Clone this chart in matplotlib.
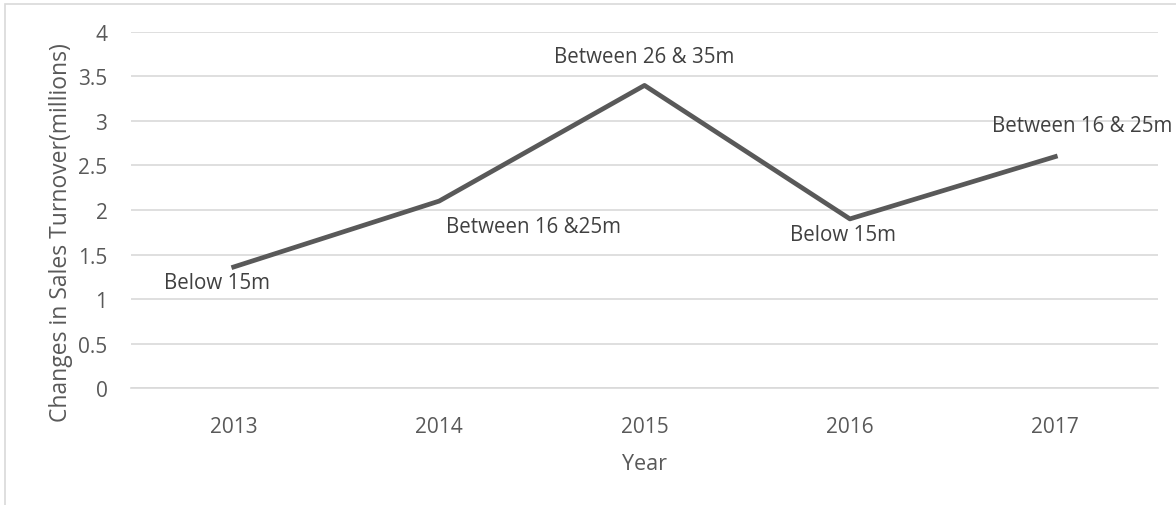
import matplotlib.pyplot as plt
import numpy as np

# data
years = ['2013', '2014', '2015', '2016', '2017']
turnover = [1.36, 2.1, 3.4, 1.9, 2.6]
labels = ['Below 15m', 'Between 16 &25m', 'Between 26 & 35m', 'Below 15m', 'Between 16 & 25m']
# label offsets (pixels) from each point
offsets = [(-17, -16), (94, -25), (0, 29), (-7, -16), (27, 31)]

plt.rcParams['font.family'] = ['Open Sans', 'DejaVu Sans']
grey = '#595959'
px = 72 / 100.

fig = plt.figure(figsize=(11.76, 5.06), dpi=100)
fig.patches.append(plt.Rectangle((0.004, -0.01), 1.1, 1.0, transform=fig.transFigure,
                                 fill=False, edgecolor='#d9d9d9', linewidth=1.2))
ax = fig.add_axes([0.1114, 0.2312, 0.8733, 0.7036])

x = np.arange(len(years))
ax.plot(x, turnover, color=grey, linewidth=3.4, zorder=3)

for xi, yi, lab, off in zip(x, turnover, labels, offsets):
    ax.annotate(lab, (xi, yi), xytext=(off[0] * px, off[1] * px),
                textcoords='offset points', ha='center', va='center',
                fontsize=14.8, color='#404040', annotation_clip=False)

ax.set_xlim(-0.5, 4.5)
ax.set_ylim(0, 4)
ax.set_yticks(np.arange(0, 4.01, 0.5))
ax.set_yticklabels(['0', '0.5', '1', '1.5', '2', '2.5', '3', '3.5', '4'])
ax.set_xticks(x)
ax.set_xticklabels(years)
ax.grid(axis='y', color='#d9d9d9', linewidth=1.2)
ax.set_axisbelow(True)
for s in ax.spines.values():
    s.set_visible(False)
ax.spines['bottom'].set_visible(True)
ax.spines['bottom'].set_color('#d9d9d9')
ax.spines['bottom'].set_linewidth(1.2)
ax.tick_params(length=0, labelsize=15, labelcolor=grey)
ax.tick_params(axis='y', pad=17)
ax.tick_params(axis='x', pad=20)
ax.set_xlabel('Year', fontsize=15.5, color=grey, labelpad=12)
ax.set_ylabel('Changes in Sales Turnover(millions)', fontsize=16.5, color=grey)
ax.yaxis.set_label_coords(-0.056, 0.44)

fig.savefig('out.png', dpi=100)
